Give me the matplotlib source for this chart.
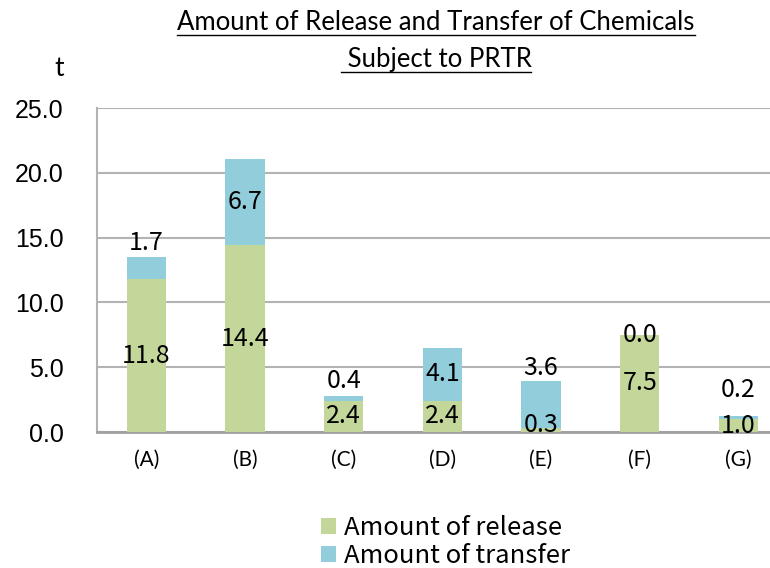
import matplotlib
matplotlib.use('Agg')
import matplotlib.pyplot as plt
from matplotlib.lines import Line2D

# Daten
categories = ['(A)', '(B)', '(C)', '(D)', '(E)', '(F)', '(G)']
release = [11.8, 14.4, 2.4, 2.4, 0.3, 7.5, 1.0]
transfer = [1.7, 6.7, 0.4, 4.1, 3.6, 0.0, 0.2]
yticks = [0, 5, 10, 15, 20, 25]

# label placement for the transfer values (points above bar top, None = inside)
transfer_lift = [1, None, 1, None, 0, None, 10]

green = '#c4d79b'
blue = '#92cddc'
grid_c = '#b3b3b3'
lato = ['Lato', 'DejaVu Sans']
arial = ['Liberation Sans', 'DejaVu Sans']
gothic = ['Noto Sans CJK JP', 'DejaVu Sans']

fig = plt.figure(figsize=(7.7, 5.68), dpi=100)
ax = fig.add_axes([97 / 770, 1 - 432 / 568, (770 - 97) / 770, 324 / 568])

x = list(range(len(categories)))
ax.bar(x, release, width=0.4, color=green, label='Amount of release', zorder=3)
ax.bar(x, transfer, width=0.4, bottom=release, color=blue,
       label='Amount of transfer', zorder=3)

for i in x:
    # small release values sit a little above the axis
    ax.annotate(f'{release[i]:.1f}', (i, release[i] / 2),
                xytext=(0, 4 if release[i] < 1 else 0), textcoords='offset points',
                ha='center', va='center', fontsize=18, family=gothic, zorder=4)
    top = release[i] + transfer[i]
    if transfer_lift[i] is None:
        ax.text(i, release[i] + transfer[i] / 2, f'{transfer[i]:.1f}',
                ha='center', va='center', fontsize=18, family=gothic, zorder=4)
    else:
        ax.annotate(f'{transfer[i]:.1f}', (i, top), xytext=(0, transfer_lift[i]),
                    textcoords='offset points', ha='center', va='bottom',
                    fontsize=18, family=gothic, zorder=4)

ax.set_ylim(0, 25)
ax.set_xlim(-0.5, 6.32)
ax.set_yticks(yticks)
ax.set_yticklabels([f'{v:.1f}' for v in yticks], family=arial, fontsize=18)
ax.set_xticks(x)
ax.set_xticklabels(categories, family=lato, fontsize=15)
ax.tick_params(axis='both', length=0)
ax.tick_params(axis='y', pad=24)
ax.tick_params(axis='x', pad=13)
ax.grid(axis='y', color=grid_c, linewidth=1.5, zorder=0)
for s in ['top', 'right']:
    ax.spines[s].set_visible(False)
ax.spines['left'].set_color(grid_c)
ax.spines['left'].set_linewidth(1.5)
ax.spines['bottom'].set_color('#a0a0a0')
ax.spines['bottom'].set_linewidth(2)

fig.text(64 / 770, 1 - 68 / 568, 't', ha='right', va='center', family=lato,
         fontsize=19)

t1 = fig.text(436 / 770, 1 - 23 / 568, 'Amount of Release and Transfer of Chemicals',
              ha='center', va='center', family=lato, fontsize=18.5)
t2 = fig.text(436 / 770, 1 - 60 / 568, ' Subject to PRTR',
              ha='center', va='center', family=lato, fontsize=18.5)

fig.legend(loc='upper left', bbox_to_anchor=(308 / 770, 1 - 502 / 568),
           frameon=False, prop={'family': gothic, 'size': 18.5},
           handlelength=0.6, handleheight=0.6, handletextpad=0.3,
           labelspacing=0.08, borderpad=0)

# underline the title lines
fig.canvas.draw()
r = fig.canvas.get_renderer()
for t in (t1, t2):
    bb = t.get_window_extent(r)
    y0 = bb.y0 + 1
    fig.add_artist(Line2D([bb.x0 / 770, bb.x1 / 770], [y0 / 568, y0 / 568],
                          transform=fig.transFigure, color='black', linewidth=1))

fig.savefig('out.png', dpi=100)
